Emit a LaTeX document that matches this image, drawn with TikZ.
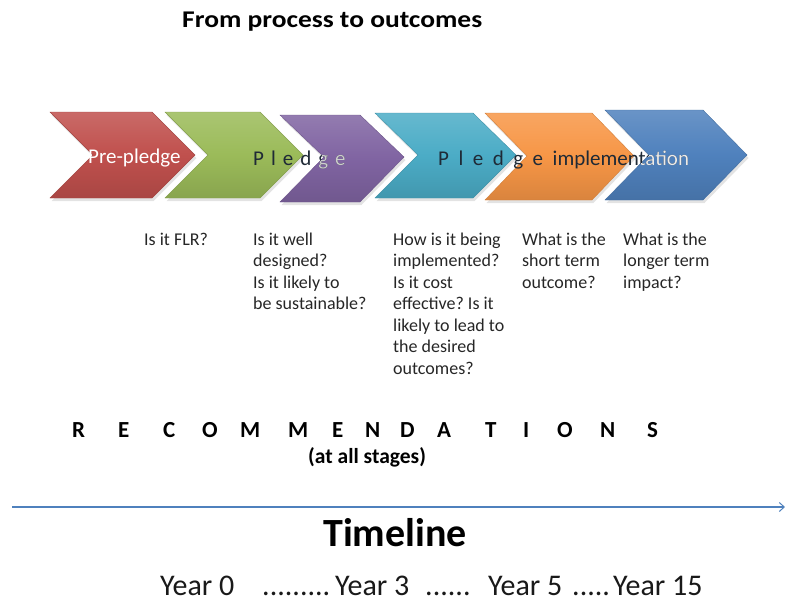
\documentclass[tikz,border=0pt]{standalone}
\usepackage{fontspec}
\setmainfont{Carlito}
\usetikzlibrary{arrows.meta,shadows}
\frenchspacing
\definecolor{cred}{HTML}{C0504D}
\definecolor{cgreen}{HTML}{9BBB59}
\definecolor{cpurple}{HTML}{8064A2}
\definecolor{ccyan}{HTML}{4BACC6}
\definecolor{corange}{HTML}{F79646}
\definecolor{cblue}{HTML}{4F81BD}
\definecolor{darktxt}{HTML}{1F2A36}
\tikzset{
  chev/.style={top color=#1!85!white, bottom color=#1!88!black, middle color=#1,
    draw=#1!85!black, line width=0.4pt,
    drop shadow={opacity=0.22, shadow xshift=1.5pt, shadow yshift=-3pt}},
  stagetxt/.style={font=\fontsize{21}{25}\selectfont, inner sep=0pt, anchor=base west},
  qtxt/.style={font=\fontsize{18}{21.5}\selectfont, anchor=base west, inner sep=0pt, text=black!85},
  rectxt/.style={font=\bfseries\fontsize{23}{27}\selectfont, inner sep=0pt, anchor=base west},
  yeartxt/.style={font=\fontsize{30}{36}\selectfont, inner sep=0pt, anchor=base west, text=black!90},
}
\newcommand\qlines[1]{\begin{tabular}[t]{@{}l@{}}#1\end{tabular}}
\begin{document}
\begin{tikzpicture}[x=1pt,y=-1pt]
\useasboundingbox (0,0) rectangle (785,603);
% title
\node[font=\bfseries\fontsize{24}{28}\selectfont, inner sep=0pt, anchor=base west, xscale=1.145] (title) at (182,27) {From process to outcomes};
% chevrons
\path[chev=cred]    (50,112) -- (152,112) -- (195,155) -- (152,198) -- (50,198) -- (93,155) -- cycle;
\path[chev=cgreen]  (165,112) -- (260,112) -- (303,155) -- (260,198) -- (165,198) -- (208,155) -- cycle;
\path[chev=cpurple] (280,115) -- (360,115) -- (404,157) -- (360,202) -- (280,202) -- (324,157) -- cycle;
\path[chev=ccyan]   (375,113) -- (473,113) -- (516,155) -- (473,198) -- (375,198) -- (418,155) -- cycle;
\path[chev=corange] (485,113) -- (592,113) -- (634,156) -- (592,200) -- (485,200) -- (527,156) -- cycle;
\path[chev=cblue]   (605,110) -- (703,110) -- (747,155) -- (703,200) -- (605,200) -- (649,155) -- cycle;
% stage labels
\node[stagetxt, text=white] (prepledge) at (88,163) {Pre-pledge};
\node[stagetxt, text=darktxt] (pledge) at (253,165) {\spaceskip=7pt P l e d g e};
\node[stagetxt, text=darktxt] (impl) at (438,165) {\spaceskip=9.5pt P l e d g e implementation};
\begin{scope}
  \clip (280,115) -- (360,115) -- (404,157) -- (360,202) -- (280,202) -- (324,157) -- cycle;
  \node[stagetxt, text=white!80!black] (pledgeW) at (253,165) {\spaceskip=7pt P l e d g e};
\end{scope}
\begin{scope}
  \clip (605,110) -- (703,110) -- (747,155) -- (703,200) -- (605,200) -- (649,155) -- cycle;
  \node[stagetxt, text=white!92!black] (implW) at (438,165) {\spaceskip=9.5pt P l e d g e implementation};
\end{scope}
% questions
\node[qtxt] (q1) at (144,245) {\qlines{Is it FLR?}};
\node[qtxt] (q2) at (253,245) {\qlines{Is it well\\designed?\\Is it likely to\\be sustainable?}};
\node[qtxt] (q3) at (393,245) {\qlines{How is it being\\implemented?\\Is it cost\\effective? Is it\\likely to lead to\\the desired\\outcomes?}};
\node[qtxt] (q4) at (522,245) {\qlines{What is the\\short term\\outcome?}};
\node[qtxt] (q5) at (623,245) {\qlines{What is the\\longer term\\impact?}};
% recommendations
\foreach \ch/\xx [count=\i] in {R/72,E/118,C/163,O/202,M/240,M/288,E/332,N/365,D/400,A/437,T/485,I/523,O/557,N/600,S/647}
  \node[rectxt] (rec\i) at (\xx,437) {\ch};
\node[font=\bfseries\fontsize{21.5}{25}\selectfont, inner sep=0pt, anchor=base west] (stages) at (308,463) {(at all stages)};
% timeline arrow
\coordinate (tlstart) at (12,507);
\coordinate (tlend) at (785,507);
\draw[cblue, line width=2.6pt, -{Straight Barb[length=5pt,width=9pt,line width=1pt]}] (tlstart) -- (tlend);
\node[font=\bfseries\fontsize{40}{48}\selectfont, inner sep=0pt, anchor=base] (timeline) at (395,546) {Timeline};
% years
\node[yeartxt] (y0) at (160,595) {Year 0};
\node[yeartxt] (d1) at (262,595) {.........};
\node[yeartxt] (y3) at (335,595) {Year 3};
\node[yeartxt] (d2) at (425,595) {......};
\node[yeartxt] (y5) at (488,595) {Year 5};
\node[yeartxt] (d3) at (572,595) {.....};
\node[yeartxt] (y15) at (613,595) {Year 15};
\end{tikzpicture}
\end{document}
